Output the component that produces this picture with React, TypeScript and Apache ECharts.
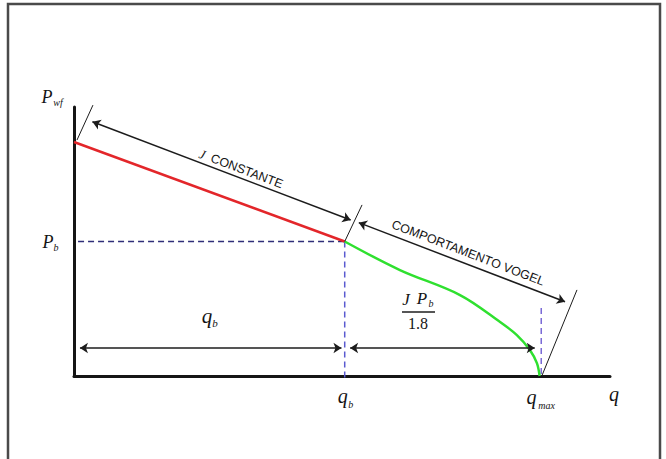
import React, { useEffect, useRef } from "react";
import * as echarts from "echarts";

// Axis ranges (arbitrary units of rate q and pressure P)
const qAxisMax = 99;
const pAxisMax = 100;

// Key values
const qb = 50;
const qmax = 86;
const pb = 50;

// Straight line (constant productivity index J) above bubble point
const straightQ = [0, 50];
const straightP = [87, 50];

// Vogel behaviour below bubble point
const vogelQ = [50, 60.2, 71.3, 78.7, 81.8, 84.2, 85.5, 86];
const vogelP = [50, 39.4, 30.1, 20.1, 15.2, 9.7, 4.8, 0];

// Dimension arrows: [q1, p1, q2, p2]
const arrowJ = [3.4, 94.5, 51.1, 58.0];
const arrowVogel = [52.6, 57.0, 90.7, 27.6];
const arrowQb = [1.1, 10.4, 49.4, 10.4];
const arrowQv = [51.0, 10.4, 85.1, 10.4];

// Slanted extension lines: [q1, p1, q2, p2]
const extTop = [0.55, 87.7, 3.5, 100.7];
const extQb = [50, 50, 53.2, 63.6];
const extQmax = [86.4, 0, 92.9, 32.0];

const seg = (a: number[]) => ({ coords: [[a[0], a[1]], [a[2], a[3]]] });

export default function App() {
  const ref = useRef<HTMLDivElement>(null);

  useEffect(() => {
    if (!ref.current) return;
    const chart = echarts.init(ref.current, null, { renderer: "svg" });

    const serif = "'Liberation Serif', 'DejaVu Serif', serif";
    const sans = "'Liberation Sans', Arial, sans-serif";

    chart.setOption({
      animation: false,
      backgroundColor: "#ffffff",
      grid: { left: 74, top: 107, width: 536, height: 269 },
      xAxis: {
        type: "value",
        min: 0,
        max: qAxisMax,
        axisLine: { show: true, onZero: false, lineStyle: { color: "#151515", width: 3 } },
        axisTick: { show: false },
        axisLabel: { show: false },
        splitLine: { show: false },
      },
      yAxis: {
        type: "value",
        min: 0,
        max: pAxisMax,
        axisLine: { show: true, onZero: false, lineStyle: { color: "#151515", width: 3 } },
        axisTick: { show: false },
        axisLabel: { show: false },
        splitLine: { show: false },
      },
      series: [
        {
          type: "line",
          clip: false,
          showSymbol: false,
          data: [[0.75, pb], [qb, pb]],
          lineStyle: { color: "#2e2e78", width: 1.5, type: [6, 4] },
          z: 2,
        },
        {
          type: "line",
          clip: false,
          showSymbol: false,
          data: [[qb, pb], [qb, -1.6]],
          lineStyle: { color: "#5a5ad0", width: 1.5, type: [6, 4] },
          z: 2,
        },
        {
          type: "line",
          clip: false,
          showSymbol: false,
          data: [[qmax + 0.3, 25.3], [qmax + 0.3, 0]],
          lineStyle: { color: "#7a6ad6", width: 1.5, type: [6, 4] },
          z: 2,
        },
        {
          type: "line",
          showSymbol: false,
          data: straightQ.map((q, i) => [q, straightP[i]]),
          lineStyle: { color: "#e3262a", width: 2.5 },
          z: 3,
        },
        {
          type: "line",
          showSymbol: false,
          smooth: 0.35,
          data: vogelQ.map((q, i) => [q, vogelP[i]]),
          lineStyle: { color: "#2fe02f", width: 2.5 },
          z: 3,
        },
        {
          type: "lines",
          coordinateSystem: "cartesian2d",
          clip: false,
          symbol: ["arrow", "arrow"],
          symbolSize: 8,
          lineStyle: { color: "#1c1c1c", width: 1.5, opacity: 1, curveness: 0 },
          data: [seg(arrowJ), seg(arrowVogel), seg(arrowQb), seg(arrowQv)],
          z: 4,
        },
        {
          type: "lines",
          coordinateSystem: "cartesian2d",
          clip: false,
          symbol: ["none", "none"],
          lineStyle: { color: "#1c1c1c", width: 1, opacity: 1, curveness: 0 },
          data: [seg(extTop), seg(extQb), seg(extQmax)],
          z: 4,
        },
      ],
    });

    const px = (q: number, p: number) => chart.convertToPixel({ gridIndex: 0 }, [q, p]) as number[];
    const angleOf = (a: number[]) => {
      const s = px(a[0], a[1]);
      const e = px(a[2], a[3]);
      return Math.atan2(s[1] - e[1], e[0] - s[0]);
    };

    const italic = (text: string, x: number, y: number, size: number) => ({
      type: "text",
      x,
      y,
      style: {
        text,
        fill: "#141414",
        font: `italic ${size}px ${serif}`,
        align: "center",
        verticalAlign: "middle",
      },
    });

    const [qbX] = px(qb, 0);
    const [qmX] = px(qmax, 0);

    chart.setOption({
      graphic: [
        {
          type: "rect",
          shape: { x: 8, y: 4, width: 652, height: 470 },
          style: { fill: "none", stroke: "#4a4a4a", lineWidth: 2.5 },
          silent: true,
        },
        // pressure labels
        italic("P", 47, 97, 18),
        italic("wf", 58, 102, 10),
        italic("P", 48, 242, 18),
        italic("b", 56, 247, 10),
        // rate labels
        italic("q", 207, 316, 21),
        italic("b", 215, 323, 11),
        italic("q", qbX - 2, 396, 20),
        italic("b", qbX + 6, 404, 10),
        italic("q", qmX - 8, 397, 20),
        italic("max", qmX + 7, 405, 10),
        italic("q", 614, 394, 20),
        // J Pb / 1.8
        italic("J", 406, 299, 17),
        italic("P", 422, 298, 17),
        italic("b", 431, 303, 10),
        {
          type: "line",
          shape: { x1: 402, y1: 312, x2: 435, y2: 312 },
          style: { stroke: "#1e1e1e", lineWidth: 1.3 },
        },
        {
          type: "text",
          x: 418,
          y: 323,
          style: {
            text: "1.8",
            fill: "#141414",
            font: `16px ${serif}`,
            align: "center",
            verticalAlign: "middle",
          },
        },
        // arrow captions
        {
          type: "text",
          x: 241,
          y: 169,
          rotation: angleOf(arrowJ),
          style: {
            text: "{j|J}  {t|CONSTANTE}",
            align: "center",
            verticalAlign: "middle",
            rich: {
              j: { font: `italic 13px ${serif}`, fill: "#141414" },
              t: { font: `12.5px ${sans}`, fill: "#141414" },
            },
          },
        },
        {
          type: "text",
          x: 468,
          y: 253,
          rotation: angleOf(arrowVogel),
          style: {
            text: "COMPORTAMENTO VOGEL",
            fill: "#141414",
            font: `12.5px ${sans}`,
            align: "center",
            verticalAlign: "middle",
          },
        },
      ],
    });

    return () => chart.dispose();
  }, []);

  return (
    <div
      ref={ref}
      style={{ position: "fixed", left: 0, top: 0, width: 666, height: 459 }}
    />
  );
}
